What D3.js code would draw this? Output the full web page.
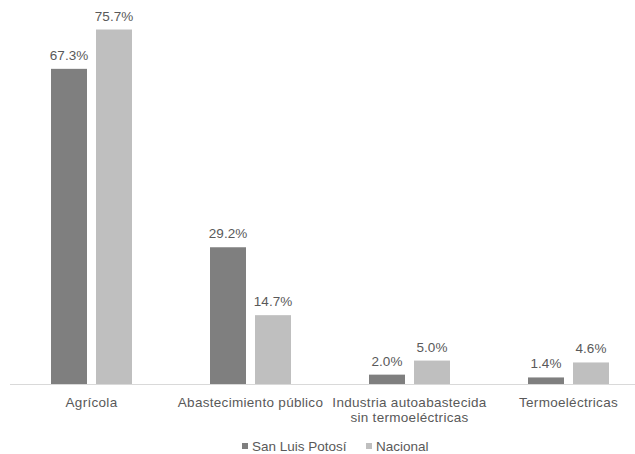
<!DOCTYPE html>
<html>
<head>
<meta charset="utf-8">
<script src="https://cdn.jsdelivr.net/npm/d3@7"></script>
<style>
    body { margin: 0; background: #fff; }
    text { font-family: "Liberation Sans", Arial, sans-serif; fill: #595959; }
</style>
</head>
<body>
<svg id="chart" width="635" height="454"></svg>
<script>
// categories (label lines)
const categories = ["Agrícola", "Abastecimiento público", "Industria autoabastecida|sin termoeléctricas", "Termoeléctricas"];
const series = ["San Luis Potosí", "Nacional"];
const slp_values = [67.3, 29.2, 2.0, 1.4];
const nacional_values = [75.7, 14.7, 5.0, 4.6];
const colors = ["#7f7f7f", "#bfbfbf"];

const svg = d3.select("#chart");
const baseline = 384;

const x0 = d3.scaleBand().domain(categories).range([12, 648]);
const x1 = d3.scaleBand().domain(series).range([-40.5, 40.5]).paddingInner(0.2);
const y = d3.scaleLinear().domain([0, 75.7]).range([baseline, 29.5]);

const rows = categories.map((c, i) => ({
    cat: c,
    vals: [
        { s: series[0], v: slp_values[i] },
        { s: series[1], v: nacional_values[i] }
    ]
}));

// axis line
svg.append("line")
    .attr("x1", 10).attr("x2", 635)
    .attr("y1", baseline + 0.5).attr("y2", baseline + 0.5)
    .attr("stroke", "#d9d9d9");

const g = svg.selectAll(".grp")
    .data(rows)
    .enter()
    .append("g")
    .attr("transform", d => "translate(" + (x0(d.cat) + x0.bandwidth() / 2) + ",0)");

g.selectAll("rect")
    .data(d => d.vals)
    .enter()
    .append("rect")
    .attr("x", d => x1(d.s))
    .attr("y", d => y(d.v))
    .attr("width", x1.bandwidth())
    .attr("height", d => baseline - y(d.v))
    .attr("fill", (d, i) => colors[i]);

g.selectAll(".val")
    .data(d => d.vals)
    .enter()
    .append("text")
    .attr("class", "val")
    .attr("x", d => x1(d.s) + x1.bandwidth() / 2)
    .attr("y", d => y(d.v) - 9)
    .attr("text-anchor", "middle")
    .style("font-size", "13.5px")
    .text(d => d.v.toFixed(1) + "%");

// category labels
g.append("text")
    .attr("text-anchor", "middle")
    .style("font-size", "13.5px")
    .style("letter-spacing", "0.3px")
    .selectAll("tspan")
    .data(d => d.cat.split("|"))
    .enter()
    .append("tspan")
    .attr("x", 0)
    .attr("y", (d, i) => 406.5 + i * 15.5)
    .text(d => d);

// legend
const legend = svg.append("g");
const legendX = [242, 366];
series.forEach((s, i) => {
    legend.append("rect")
        .attr("x", legendX[i]).attr("y", 443)
        .attr("width", 6).attr("height", 6)
        .attr("fill", colors[i]);
    legend.append("text")
        .attr("x", legendX[i] + 10).attr("y", 451)
        .style("font-size", "13.5px")
        .text(s);
});
</script>
</body>
</html>
